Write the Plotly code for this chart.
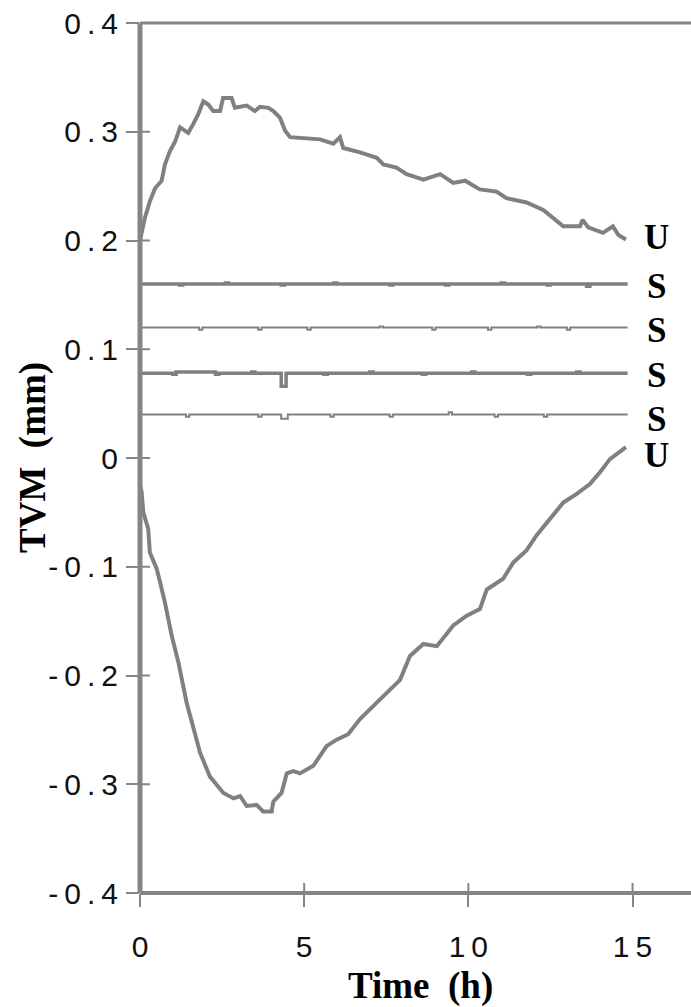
import plotly.graph_objects as go

# ---------------- data ----------------
upper_t = [0.0, 0.05, 0.15, 0.3, 0.46, 0.66, 0.76, 0.91, 1.07, 1.22, 1.47, 1.62, 1.77, 1.93,
           2.08, 2.23, 2.44, 2.53, 2.79, 2.89, 3.25, 3.5, 3.65, 3.91, 4.06, 4.26, 4.42, 4.57,
           4.97, 5.48, 5.89, 6.09, 6.19, 6.7, 7.21, 7.41, 7.81, 8.12, 8.63, 9.14, 9.54, 9.9,
           10.35, 10.86, 11.16, 11.77, 12.28, 12.58, 12.89, 13.4, 13.48, 13.65, 14.1, 14.4,
           14.57, 14.8]
upper_v = [0.200, 0.208, 0.221, 0.236, 0.248, 0.255, 0.270, 0.282, 0.291, 0.304, 0.299, 0.307,
           0.316, 0.328, 0.325, 0.319, 0.319, 0.331, 0.331, 0.322, 0.324, 0.319, 0.323, 0.322,
           0.319, 0.313, 0.301, 0.295, 0.294, 0.293, 0.289, 0.295, 0.285, 0.281, 0.276, 0.270,
           0.267, 0.261, 0.256, 0.261, 0.253, 0.255, 0.247, 0.245, 0.239, 0.235, 0.228, 0.221,
           0.213, 0.213, 0.219, 0.212, 0.207, 0.213, 0.205, 0.201]

lower_t = [0.0, 0.05, 0.1, 0.25, 0.3, 0.51, 0.61, 0.76, 0.97, 1.17, 1.42, 1.63, 1.83, 2.13,
           2.54, 2.85, 3.05, 3.25, 3.55, 3.75, 4.01, 4.06, 4.31, 4.47, 4.67, 4.87, 5.28, 5.68,
           5.99, 6.34, 6.7, 7.31, 7.92, 8.22, 8.63, 9.04, 9.54, 9.95, 10.35, 10.56, 11.06,
           11.37, 11.77, 12.08, 12.49, 12.89, 13.3, 13.7, 14.01, 14.31, 14.8]
lower_v = [-0.025, -0.031, -0.050, -0.065, -0.087, -0.102, -0.114, -0.133, -0.164, -0.188,
           -0.225, -0.250, -0.271, -0.293, -0.308, -0.313, -0.311, -0.320, -0.319, -0.325,
           -0.325, -0.316, -0.308, -0.290, -0.288, -0.290, -0.283, -0.265, -0.259, -0.254,
           -0.240, -0.222, -0.204, -0.182, -0.171, -0.173, -0.154, -0.145, -0.139, -0.121,
           -0.111, -0.096, -0.085, -0.071, -0.056, -0.041, -0.033, -0.024, -0.013, -0.001,
           0.010]

s1_t = [0.0, 1.2, 1.3, 2.6, 2.7, 4.3, 4.4, 5.9, 6.0, 7.6, 7.7, 9.3, 9.4, 11.0, 11.1, 12.4,
        12.5, 13.6, 13.7, 14.85]
s1_v = [0.160, 0.159, 0.160, 0.161, 0.160, 0.159, 0.160, 0.161, 0.160, 0.159, 0.160, 0.159,
        0.160, 0.161, 0.160, 0.159, 0.160, 0.158, 0.160, 0.160]

s2_t = [0.0, 1.8, 1.9, 3.6, 3.7, 5.1, 5.2, 7.3, 7.4, 8.9, 9.0, 10.6, 10.7, 12.1, 12.2, 13.0,
        13.1, 14.85]
s2_v = [0.120, 0.118, 0.120, 0.118, 0.120, 0.118, 0.120, 0.121, 0.120, 0.118, 0.120, 0.118,
        0.120, 0.121, 0.120, 0.118, 0.120, 0.120]

s3_t = [0.0, 1.0, 1.1, 2.3, 2.4, 3.4, 3.5, 4.3, 4.45, 5.6, 5.7, 7.0, 7.1, 8.6, 8.7, 10.1,
        10.2, 11.8, 11.9, 13.3, 13.4, 14.85]
s3_v = [0.078, 0.077, 0.079, 0.077, 0.078, 0.079, 0.078, 0.066, 0.078, 0.077, 0.078, 0.079,
        0.078, 0.077, 0.078, 0.079, 0.078, 0.077, 0.078, 0.079, 0.078, 0.078]

s4_t = [0.0, 1.4, 1.5, 3.6, 3.7, 4.3, 4.5, 5.8, 5.9, 7.6, 7.7, 9.4, 9.5, 10.8, 10.9, 12.3,
        12.4, 14.85]
s4_v = [0.040, 0.038, 0.040, 0.038, 0.040, 0.036, 0.040, 0.038, 0.040, 0.038, 0.040, 0.042,
        0.040, 0.038, 0.040, 0.038, 0.040, 0.040]

label_text = ["U", "S", "S", "S", "S", "U"]
label_y = [0.203, 0.158, 0.117, 0.076, 0.035, 0.002]
label_x = 15.72

y_ticks = [-0.4, -0.3, -0.2, -0.1, 0, 0.1, 0.2, 0.3, 0.4]
y_tick_text = ["-0.4", "-0.3", "-0.2", "-0.1", "0", "0.1", "0.2", "0.3", "0.4"]
x_ticks = [0, 5, 10, 15]
x_tick_text = ["0", "5", "10", "15"]

# ---------------- figure ----------------
GRAY = "#808080"
AXIS = "#858585"
fig = go.Figure()

def spaced(s):
    return "\u2009".join(list(s))

fig.add_trace(go.Scatter(x=upper_t, y=upper_v, mode="lines", line=dict(color=GRAY, width=4),
                         showlegend=False, hoverinfo="skip"))
fig.add_trace(go.Scatter(x=lower_t, y=lower_v, mode="lines", line=dict(color=GRAY, width=4),
                         showlegend=False, hoverinfo="skip"))
for t, v, w in [(s1_t, s1_v, 3.5), (s2_t, s2_v, 2), (s3_t, s3_v, 3.5), (s4_t, s4_v, 2)]:
    fig.add_trace(go.Scatter(x=t, y=v, mode="lines", line=dict(color=GRAY, width=w),
                             line_shape="hv", showlegend=False, hoverinfo="skip"))

tick_font = dict(family="Liberation Sans, Arial, sans-serif", size=30, color="#111111")

fig.update_layout(
    template="none",
    width=691, height=1007,
    margin=dict(l=140, r=0, t=23, b=114),
    paper_bgcolor="white", plot_bgcolor="white", showlegend=False,
    xaxis=dict(range=[0, 16.78], showgrid=False, zeroline=False, showline=False,
               automargin=False,
               ticks="outside", ticklen=13, tickwidth=2, tickcolor=AXIS,
               tickvals=x_ticks, ticktext=[spaced(s) for s in x_tick_text],
               tickfont=tick_font, ticklabelstandoff=14),
    yaxis=dict(range=[-0.4, 0.4], showgrid=False, zeroline=False, showline=False,
               automargin=False,
               ticks="outside", ticklen=13, tickwidth=2, tickcolor=AXIS,
               tickvals=y_ticks, ticktext=[spaced(s) for s in y_tick_text],
               tickfont=tick_font, ticklabelstandoff=2),
)

# axis lines / frame
fig.add_shape(type="line", xref="paper", yref="paper", x0=0, x1=1, y0=1, y1=1,
              line=dict(color=AXIS, width=3), layer="above")
fig.add_shape(type="line", xref="paper", yref="paper", x0=0, x1=1, y0=0, y1=0,
              line=dict(color=AXIS, width=4), layer="above")
fig.add_shape(type="line", xref="paper", yref="paper", x0=0, x1=0, y0=0, y1=1,
              line=dict(color=AXIS, width=5), layer="above")

# inner halves of the crossing tick marks
for v in x_ticks:
    fig.add_shape(type="line", xref="x", yref="paper", ysizemode="pixel", yanchor=0,
                  x0=v, x1=v, y0=0, y1=10, line=dict(color=AXIS, width=2))
for v in y_ticks:
    fig.add_shape(type="line", xref="paper", yref="y", xsizemode="pixel", xanchor=0,
                  x0=0, x1=10, y0=v, y1=v, line=dict(color=AXIS, width=2))

title_font = dict(family="Liberation Serif, Times New Roman, serif", size=37, color="black")
fig.add_annotation(text="<b>Time\u00a0 (h)</b>", xref="paper", yref="paper",
                   x=(420 - 140) / 551, y=-(986 - 893) / 870, xanchor="center", yanchor="middle",
                   showarrow=False, font=title_font)
fig.add_annotation(text="<b>TVM\u00a0 (mm)</b>", xref="paper", yref="paper",
                   x=(33 - 140) / 551, y=0.5, xanchor="center", yanchor="middle",
                   textangle=-90, showarrow=False, font=title_font)

for txt, yy in zip(label_text, label_y):
    fig.add_annotation(text="<b>%s</b>" % txt, x=label_x, y=yy, xref="x", yref="y",
                       xanchor="center", yanchor="middle", showarrow=False,
                       font=dict(family="Liberation Serif, Times New Roman, serif", size=35,
                                 color="black"))

fig.write_html("out.html", config={"displayModeBar": False},
               post_script="document.body.style.margin='0';document.body.style.overflow='hidden';")
